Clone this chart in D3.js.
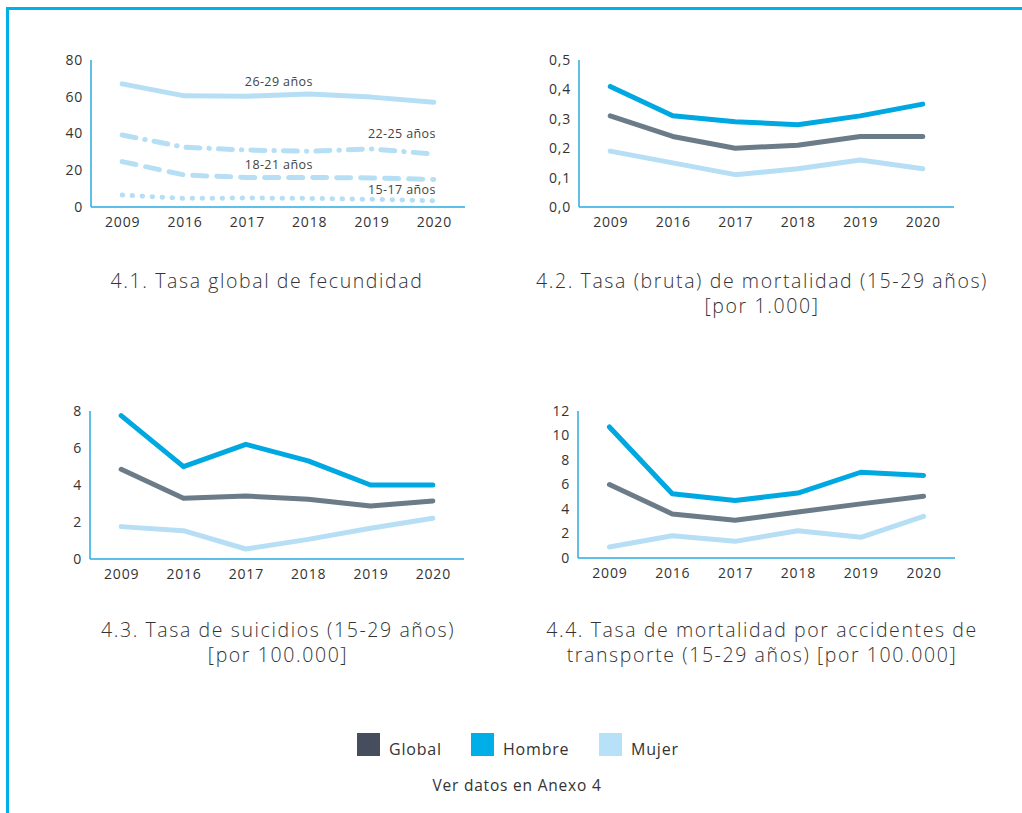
<!DOCTYPE html>
<html>
<head>
<meta charset="utf-8">
<script src="https://cdn.jsdelivr.net/npm/d3@7"></script>
<style>
  body { margin: 0; background: #fff; }
  svg { display: block; font-family: "Open Sans", "Noto Sans", sans-serif; }
</style>
</head>
<body>
<div id="graph"></div>
<script>
let years = ['2009', '2016', '2017', '2018', '2019', '2020'];

// 4.1 fecundidad, por grupo de edad
let ageGroups = ['26-29 años', '22-25 años', '18-21 años', '15-17 años'];
let fec2629 = [67, 60.5, 60.3, 61.5, 59.8, 57];
let fec2225 = [39.2, 32.5, 31, 30.3, 31.6, 28.8];
let fec1821 = [24.7, 17.4, 16.1, 16.1, 15.8, 15];
let fec1517 = [6.5, 4.7, 4.9, 4.7, 4.2, 3.4];

// 4.2 mortalidad [por 1.000]
let mortGlobal = [0.31, 0.24, 0.20, 0.21, 0.24, 0.24];
let mortHombre = [0.41, 0.31, 0.29, 0.28, 0.31, 0.35];
let mortMujer = [0.19, 0.15, 0.11, 0.13, 0.16, 0.13];

// 4.3 suicidios [por 100.000]
let suiGlobal = [4.85, 3.28, 3.4, 3.23, 2.86, 3.14];
let suiHombre = [7.75, 4.99, 6.2, 5.3, 4.0, 4.0];
let suiMujer = [1.75, 1.53, 0.54, 1.06, 1.66, 2.2];

// 4.4 accidentes de transporte [por 100.000]
let accGlobal = [6.0, 3.6, 3.08, 3.76, 4.42, 5.04];
let accHombre = [10.7, 5.24, 4.69, 5.3, 7.0, 6.74];
let accMujer = [0.9, 1.82, 1.36, 2.23, 1.69, 3.4];

let series = ['Global', 'Hombre', 'Mujer'];
let lineColor = { Global: '#6b7b87', Hombre: '#00a8e1', Mujer: '#b6dff5' };
let keyColor = { Global: '#464e5e', Hombre: '#00aee8', Mujer: '#b6e1f8' };

let width = 1022;
let height = 813;

let svg = d3.select('#graph')
    .append('svg')
        .attr('width', width)
        .attr('height', height);

// marco
svg.append('path')
    .attr('d', 'M7.5,813 V8.5 H1022')
    .attr('fill', 'none')
    .attr('stroke', '#00b0e8')
    .attr('stroke-width', 3);

function panel(opts) {
    let x = d3.scalePoint().domain(years).range(opts.xr).padding(0.5);
    let y = d3.scaleLinear().domain([0, opts.max]).range(opts.yr);
    let g = svg.append('g');

    let yAxis = g.append('g')
        .attr('transform', 'translate(' + opts.xr[0] + ',0)')
        .call(d3.axisLeft(y).tickValues(opts.ticks).tickSize(0).tickPadding(8)
            .tickFormat(opts.fmt));
    let xAxis = g.append('g')
        .attr('transform', 'translate(0,' + opts.yr[0] + ')')
        .call(d3.axisBottom(x).tickSize(0).tickPadding(10));
    [xAxis, yAxis].forEach((a) => {
        a.select('.domain').attr('stroke', '#29abe2').attr('stroke-width', 1.5);
        a.selectAll('text').attr('fill', '#333').style('font-size', '14px')
            .style('font-family', '"Open Sans", sans-serif')
            .style('letter-spacing', '0.8px');
    });
    xAxis.select('.domain').attr('d', 'M' + opts.xr[0] + ',0H' + opts.xr[1]);
    yAxis.select('.domain').attr('d', 'M0,' + opts.yr[0] + 'V' + opts.yr[1]);

    let line = d3.line().x((d, i) => x(years[i])).y((d) => y(d));
    opts.lines.forEach((s) => {
        g.append('path')
            .datum(s.values)
            .attr('d', line)
            .attr('fill', 'none')
            .attr('stroke', s.color)
            .attr('stroke-width', 5)
            .attr('stroke-linecap', 'round')
            .attr('stroke-linejoin', 'round')
            .attr('stroke-dasharray', s.dash || null);
    });

    let t = g.append('text')
        .attr('x', opts.tx)
        .attr('y', opts.ty)
        .attr('text-anchor', 'middle')
        .attr('fill', '#333')
        .style('font-size', '19.5px')
        .style('font-weight', 300)
        .style('letter-spacing', '1.6px');
    opts.title.forEach((s, i) => {
        t.append('tspan').attr('x', opts.tx).attr('dy', i ? 25 : 0).text(s);
    });
    return { x: x, y: y, g: g };
}

let fmtComma = (d) => d3.format('.1f')(d).replace('.', ',');

let p1 = panel({
    xr: [91, 465], yr: [207, 60], max: 80, ticks: [0, 20, 40, 60, 80], fmt: d3.format('d'),
    lines: [
        { values: fec2629, color: lineColor.Mujer },
        { values: fec2225, color: lineColor.Mujer, dash: '14 9 0.5 9' },
        { values: fec1821, color: lineColor.Mujer, dash: '14 10' },
        { values: fec1517, color: lineColor.Mujer, dash: '0.5 9.5' }
    ],
    title: ['4.1. Tasa global de fecundidad'], tx: 267, ty: 288
});

// etiquetas de grupos de edad (desplazamiento en px sobre la línea)
let ageLabels = [
    { text: ageGroups[0], x: p1.x('2017') + 32, v: fec2629[2], dy: -15, anchor: 'middle' },
    { text: ageGroups[1], x: p1.x('2020') + 2, v: fec2225[5], dy: -20, anchor: 'end' },
    { text: ageGroups[2], x: p1.x('2017') + 32, v: fec1821[2], dy: -13, anchor: 'middle' },
    { text: ageGroups[3], x: p1.x('2020') + 2, v: fec1517[5], dy: -11, anchor: 'end' }
];
p1.g.selectAll('.age')
    .data(ageLabels)
    .enter().append('text')
        .attr('class', 'age')
        .attr('x', (d) => d.x)
        .attr('y', (d) => p1.y(d.v) + d.dy)
        .attr('dy', '0.35em')
        .attr('text-anchor', (d) => d.anchor)
        .attr('fill', '#444')
        .style('font-size', '12.5px')
        .style('letter-spacing', '0.4px')
        .text((d) => d.text);

panel({
    xr: [579, 954], yr: [207, 60], max: 0.5, ticks: [0, 0.1, 0.2, 0.3, 0.4, 0.5], fmt: fmtComma,
    lines: [
        { values: mortMujer, color: lineColor.Mujer },
        { values: mortGlobal, color: lineColor.Global },
        { values: mortHombre, color: lineColor.Hombre }
    ],
    title: ['4.2. Tasa (bruta) de mortalidad (15-29 años)', '[por 1.000]'], tx: 762, ty: 288
});

panel({
    xr: [90, 464], yr: [559, 411], max: 8, ticks: [0, 2, 4, 6, 8], fmt: d3.format('d'),
    lines: [
        { values: suiMujer, color: lineColor.Mujer },
        { values: suiGlobal, color: lineColor.Global },
        { values: suiHombre, color: lineColor.Hombre }
    ],
    title: ['4.3. Tasa de suicidios (15-29 años)', '[por 100.000]'], tx: 278, ty: 637
});

panel({
    xr: [578, 955], yr: [558, 411], max: 12, ticks: [0, 2, 4, 6, 8, 10, 12], fmt: d3.format('d'),
    lines: [
        { values: accMujer, color: lineColor.Mujer },
        { values: accGlobal, color: lineColor.Global },
        { values: accHombre, color: lineColor.Hombre }
    ],
    title: ['4.4. Tasa de mortalidad por accidentes de', 'transporte (15-29 años) [por 100.000]'], tx: 762, ty: 637
});

// leyenda
let legendX = d3.scaleOrdinal().domain(series).range([357, 471, 599]);
let legend = svg.selectAll('.key')
    .data(series)
    .enter().append('g')
        .attr('class', 'key')
        .attr('transform', (d) => 'translate(' + legendX(d) + ',733)');
legend.append('rect')
    .attr('width', 23)
    .attr('height', 23)
    .attr('fill', (d) => keyColor[d]);
legend.append('text')
    .attr('x', 32)
    .attr('y', 22)
    .attr('fill', '#333')
    .style('font-size', '16px')
    .style('letter-spacing', '0.8px')
    .text((d) => d);

svg.append('text')
    .attr('x', 517)
    .attr('y', 791)
    .attr('text-anchor', 'middle')
    .attr('fill', '#333')
    .style('font-size', '15.5px')
    .style('letter-spacing', '0.8px')
    .text('Ver datos en Anexo 4');
</script>
</body>
</html>
